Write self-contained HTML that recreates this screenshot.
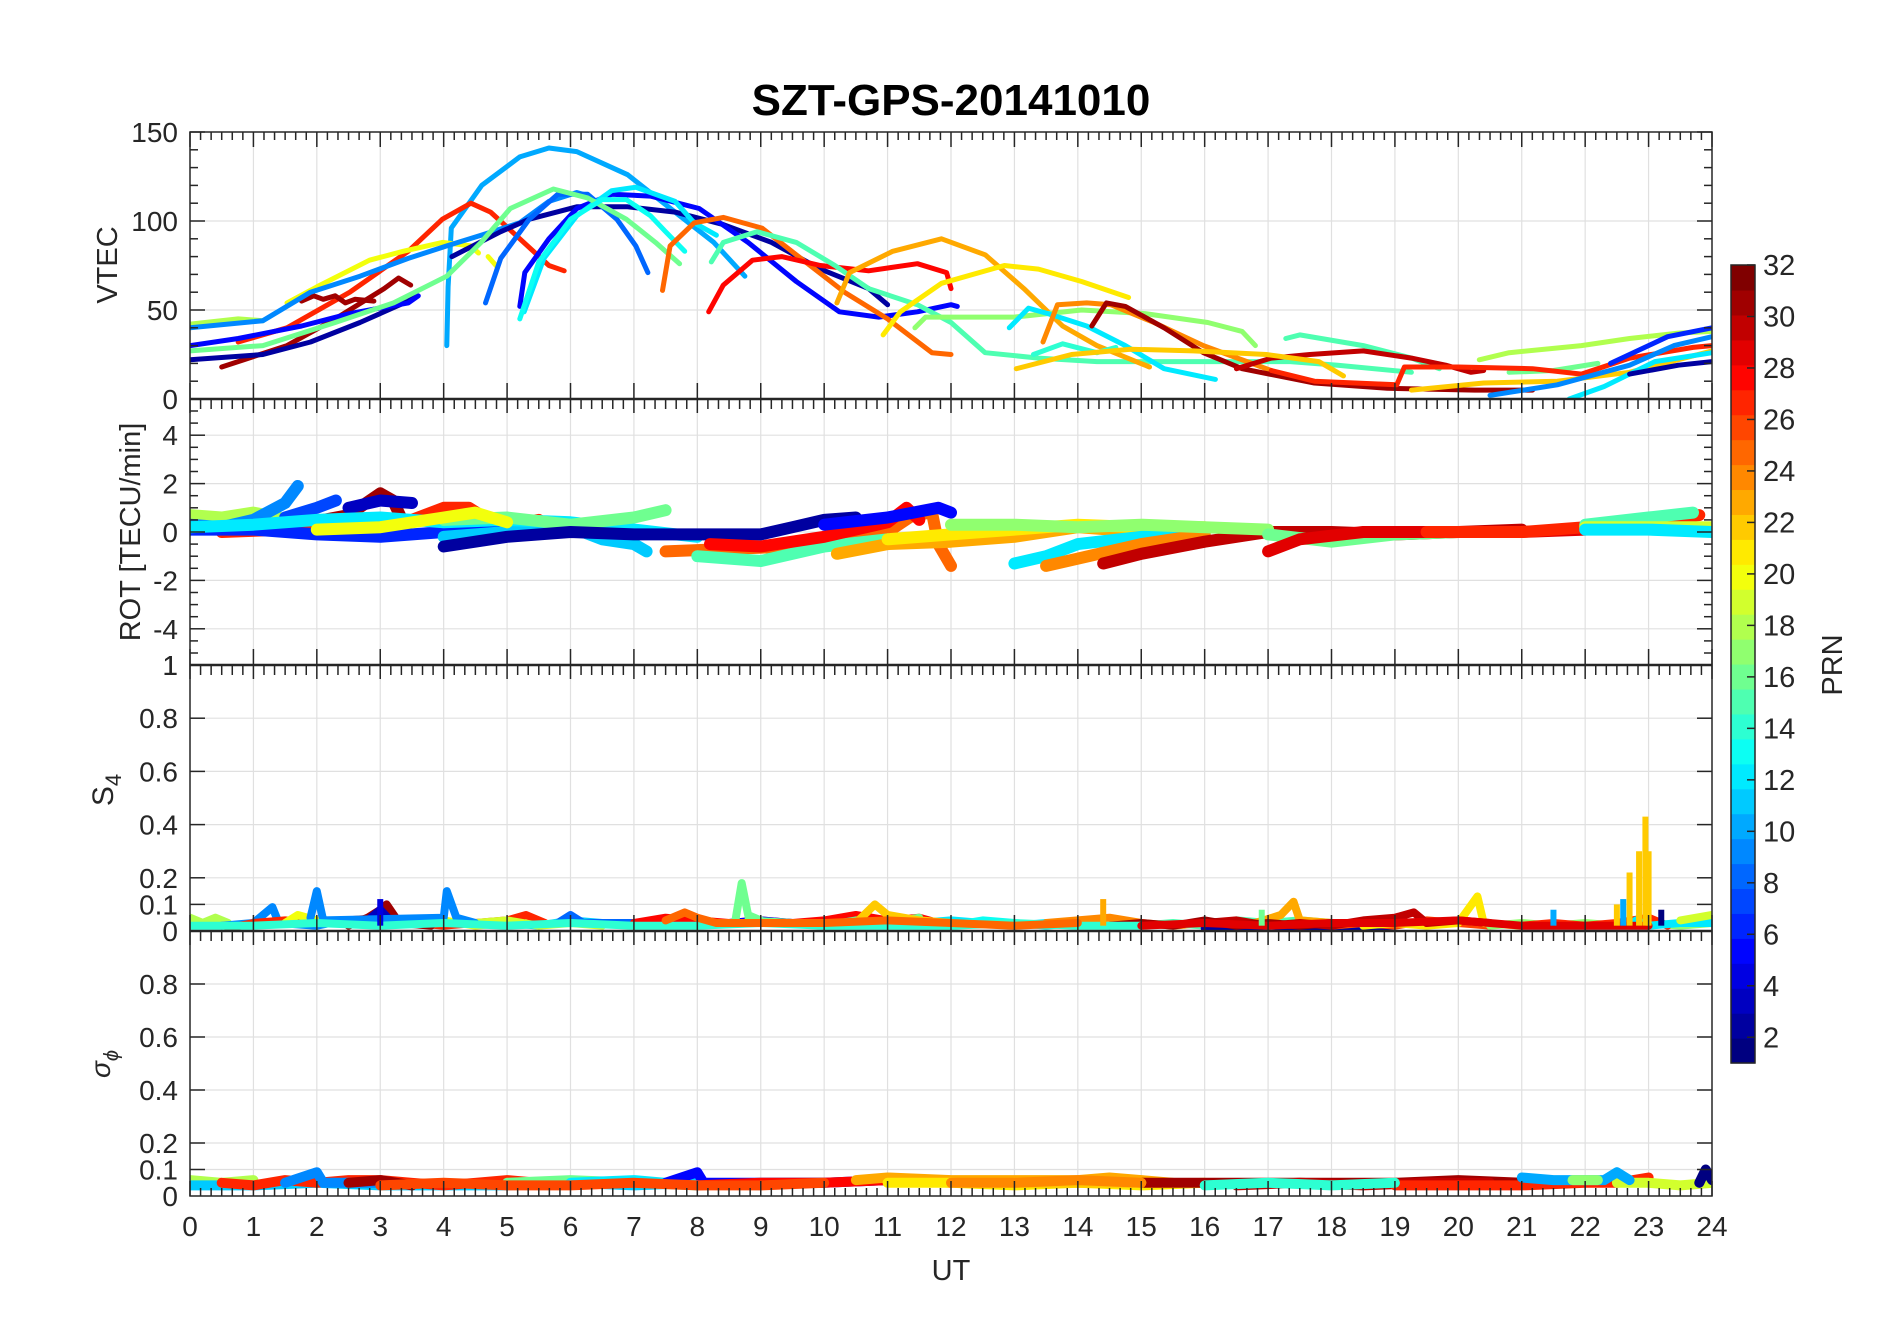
<!DOCTYPE html>
<html><head><meta charset="utf-8"><style>
html,body{margin:0;padding:0;background:#fff;}
svg{display:block;}
text{font-family:"Liberation Sans",sans-serif;fill:#262626;}
</style></head><body>
<svg id="chart" xmlns="http://www.w3.org/2000/svg" width="1902" height="1330" viewBox="0 0 1902 1330">
<rect width="1902" height="1330" fill="#fff"/>
<defs>
<clipPath id="c1"><rect x="190" y="132" width="1522" height="267"/></clipPath>
<clipPath id="c2"><rect x="190" y="399" width="1522" height="266"/></clipPath>
<clipPath id="c3"><rect x="190" y="665" width="1522" height="266"/></clipPath>
<clipPath id="c4"><rect x="190" y="931" width="1522" height="265"/></clipPath>
</defs>
<g id="grid"></g>
<g id="marks"></g>
<g id="axes"></g>
<text x="951" y="115" text-anchor="middle" font-size="44" font-weight="bold" fill="#000" style="fill:#000">SZT-GPS-20141010</text>
<text transform="translate(117,265) rotate(-90)" text-anchor="middle" font-size="29">VTEC</text>
<text transform="translate(140,532) rotate(-90)" text-anchor="middle" font-size="29">ROT [TECU/min]</text>
<text transform="translate(113,790) rotate(-90)" text-anchor="middle" font-size="30">S<tspan font-size="22" dy="8">4</tspan></text>
<text transform="translate(110,1064) rotate(-90)" text-anchor="middle" font-size="28" font-style="italic" font-family="Liberation Serif, serif">σ<tspan font-size="20" dy="8">ϕ</tspan></text>
<text x="951" y="1280" text-anchor="middle" font-size="29">UT</text>
<text transform="translate(1842,665) rotate(-90)" text-anchor="middle" font-size="29">PRN</text>
<g id="cbar"></g>
</svg>
<script>
// ---- data ----
const hourTicks=[0,1,2,3,4,5,6,7,8,9,10,11,12,13,14,15,16,17,18,19,20,21,22,23,24];
const vtecTicks=[0,50,100,150];
const rotTicks=[-4,-2,0,2,4];
const s4Ticks=[0,0.1,0.2,0.4,0.6,0.8,1];
const sigTicks=[0,0.1,0.2,0.4,0.6,0.8];
const prnTicks=[2,4,6,8,10,12,14,16,18,20,22,24,26,28,30,32];

const vtecPrn=[10,27,31,31,20,20,18,9,2,2,5,5,8,12,16,13,25,28,15,23,21,17,14,12,15,24,31,30,22,16,27,18,22,9,12,2,6];
const vtecTracks=[
[[4.05,30],[4.07,63],[4.12,96],[4.6,120],[5.2,136],[5.66,141],[6.1,139],[6.9,126],[7.65,105],[8.26,88],[8.75,69]],
[[0.76,32],[1.53,40],[2.52,60],[3.44,83],[3.98,101],[4.43,110],[4.74,105],[5.2,90],[5.66,75],[5.9,72]],
[[0.5,18],[1.53,30],[2.29,45],[3.06,62],[3.29,68],[3.48,64]],
[[1.76,55],[1.95,58],[2.1,56],[2.29,58],[2.45,54],[2.6,56],[2.9,55]],
[[1.53,54],[2,63],[2.83,78],[3.36,83],[3.98,88],[4.43,86],[4.55,82]],
[[4.7,80],[4.85,74]],
[[0,42],[0.76,45],[1.15,44]],
[[0,40],[1.15,44],[1.9,60],[2.68,69],[3.44,79],[4.05,86],[4.59,92],[5.2,99],[5.66,111],[6.1,116],[6.3,114]],
[[0,22],[1.15,25],[1.9,32],[2.68,43],[3.44,55],[3.55,58]],
[[4.13,80],[4.9,94],[5.35,101],[6.1,108],[6.9,108],[7.65,105],[8.41,98],[9.17,88],[9.94,73],[10.7,62],[11.0,53]],
[[0,30],[0.76,34],[1.76,41],[2.52,48],[3.44,54],[3.6,58]],
[[5.2,52],[5.28,71],[5.66,90],[6.1,107],[6.65,115],[7.26,114],[8.03,107],[8.8,88],[9.56,66],[10.24,49],[10.86,46],[11.47,49],[12,53],[12.1,52]],
[[4.66,54],[4.9,79],[5.35,101],[5.8,115],[6.27,115],[6.73,101],[7.03,86],[7.22,71]],
[[5.27,49],[5.58,79],[6.1,103],[6.65,117],[7.03,119],[7.65,111],[7.95,99],[8.3,92]],
[[0,27],[1.15,30],[2.29,43],[3.21,54],[4.05,69],[4.59,88],[5.05,107],[5.73,118],[6.27,113],[6.88,101],[7.34,88],[7.72,76]],
[[5.2,45],[5.5,77],[6.0,101],[6.5,112],[6.88,112],[7.26,103],[7.5,94],[7.8,83]],
[[7.45,61],[7.57,86],[7.95,99],[8.41,102],[9.02,96],[9.56,81],[10.32,60],[11.0,45],[11.7,26],[12,25]],
[[8.18,49],[8.41,64],[8.87,78],[9.33,80],[9.94,75],[10.7,72],[11.47,76],[11.93,71],[12,62]],
[[8.22,77],[8.41,88],[8.94,94],[9.56,88],[10.17,75],[10.7,62],[11.47,53],[12,43],[12.54,26],[13.38,23],[14.3,21],[15.8,21],[17.35,21],[18.1,19],[19.26,15]],
[[10.2,54],[10.4,71],[11.08,83],[11.85,90],[12.54,81],[13.15,62],[13.76,41],[14.3,30],[15.13,18]],
[[10.93,36],[11.2,49],[11.85,65],[12.84,75],[13.38,73],[14.06,66],[14.8,57]],
[[11.43,40],[11.6,46],[13,46],[14.06,50],[15.06,48],[16.05,43],[16.59,38],[16.8,30]],
[[13.3,25],[13.76,31],[14.3,26],[14.6,29]],
[[12.92,40],[13.22,51],[13.53,48],[14.14,41],[14.75,30],[15.36,17],[16.17,11]],
[[17.28,34],[17.5,36],[18.5,30],[19.26,23],[19.7,17]],
[[13.45,32],[13.68,53],[14.14,54],[14.52,53],[15.2,43],[15.98,30],[17.05,16]],
[[14.22,41],[14.45,54],[14.75,52],[15.36,40],[15.98,26],[16.59,17],[17.73,9],[18.88,6],[20.26,5],[21.17,5]],
[[16.5,17],[17.05,23],[17.66,25],[18.5,27],[19.26,23],[19.8,19],[20.2,15],[20.4,16]],
[[13.03,17],[13.9,25],[14.83,28],[15.82,27],[16.97,25],[17.8,21],[18.19,13]],
[[20.8,15],[21.5,16],[22.2,20]],
[[17.05,16],[17.73,10],[19.03,8],[19.15,18],[20.0,18],[21.17,17],[21.94,14],[22.7,23],[23.7,29],[24,30]],
[[20.33,22],[20.8,26],[21.94,30],[22.7,34],[23.47,37],[24,38]],
[[19.26,5],[20.4,9],[21.56,10],[22.7,15],[24,27]],
[[20.5,2],[21.56,8],[22.7,19],[23.4,30],[24,35]],
[[21.75,0],[22.3,7],[23.1,21],[24,26]],
[[22.7,14],[23.47,19],[24,21]],
[[22.4,20],[23.3,35],[24,40]]
];

const rotPrn=[18,9,7,31,27,3,6,11,12,16,20,2,25,15,28,23,5,21,12,24,30,17,16,29,27,15,19,12];
const rotTracks=[
[[0,0.7],[0.5,0.6],[1,0.8],[1.4,0.6]],
[[0,0.3],[0.5,0.2],[1,0.5],[1.5,1.2],[1.7,1.9]],
[[1.5,0.6],[2,1.0],[2.3,1.3]],
[[0.5,0.1],[1.5,0.2],[2.5,0.7],[3.0,1.6],[3.2,1.3],[3.4,0.2]],
[[0.5,0.0],[1.5,0.1],[2.5,0.3],[3.5,0.5],[4,1.0],[4.4,1.0],[4.7,0.5],[5,0.3],[5.5,0.5]],
[[2.5,1.0],[3,1.3],[3.5,1.2]],
[[0,0.1],[1,0.1],[2,-0.1],[3,-0.2],[4,0.0],[5,0.2],[5.5,0.2]],
[[4,-0.2],[5,0.0],[6,0.2],[6.5,-0.3],[7,-0.5],[7.2,-0.8]],
[[0,0.2],[1,0.3],[2,0.5],[3,0.6],[4,0.4],[5,0.5],[6,0.4],[7,0.1],[8,-0.2]],
[[4,0.5],[5,0.6],[6,0.3],[7,0.6],[7.5,0.9]],
[[2,0.1],[3,0.2],[4,0.6],[4.5,0.8],[5,0.4]],
[[4,-0.6],[5,-0.2],[6,0.0],[7,-0.1],[8,-0.1],[9,-0.1],[9.5,0.2],[10,0.5],[10.5,0.6]],
[[7.5,-0.8],[8.5,-0.7],[9.5,-0.6],[10.5,-0.2],[11,0.0],[11.4,0.7],[11.7,0.8],[11.8,-0.5],[12,-1.4]],
[[8,-1.0],[9,-1.2],[10,-0.6],[11,-0.3]],
[[8.2,-0.5],[9,-0.6],[10,-0.2],[11,0.4],[11.3,1.0],[11.5,0.5]],
[[10.2,-0.9],[11,-0.5],[12,-0.4],[13,-0.2],[14,0.2],[15,0.0]],
[[10,0.3],[11,0.6],[11.8,1.0],[12,0.8]],
[[11,-0.3],[12,-0.1],[13,0.1],[14,0.3],[15,0.2],[16,0.2]],
[[13,-1.3],[13.5,-1.0],[14,-0.5],[15,-0.2],[16,-0.1]],
[[13.5,-1.4],[14,-1.1],[15,-0.5],[16,-0.1]],
[[14.4,-1.3],[15,-0.9],[16,-0.4],[17,0.0],[18,0.0],[19,-0.1],[20,0.0],[21,0.1]],
[[12,0.3],[13,0.3],[14,0.2],[15,0.3],[16,0.2],[17,0.1]],
[[17,-0.1],[18,-0.4],[19,-0.1],[20,0.0]],
[[17,-0.8],[17.5,-0.3],[18.5,0.0],[20,0.0],[21,0.0],[22,0.1]],
[[19.5,0.0],[21,0.0],[22,0.2],[23,0.5],[23.8,0.7]],
[[22,0.3],[23,0.6],[23.7,0.8]],
[[22,0.2],[23,0.2],[24,0.2]],
[[22,0.1],[23,0.1],[24,0.0]]
];

const s4Prn=[18,9,27,20,31,3,11,19,8,28,5,16,12,13,24,15,2,26,23,21,30,17,31,27,16,22,12,9,19,14,25,29];
const s4Tracks=[
[[0,0.05],[0.2,0.03],[0.4,0.05],[0.6,0.03]],
[[0.5,0.02],[1,0.03],[1.3,0.09],[1.4,0.03],[2,0.02],[2.4,0.04]],
[[0.6,0.01],[1,0.03],[1.5,0.04],[2,0.03],[2.5,0.04],[3,0.05],[3.5,0.03],[4,0.02],[4.5,0.03],[5,0.04],[5.3,0.06],[5.6,0.03]],
[[1.5,0.03],[1.7,0.06],[2,0.04],[2.5,0.03],[3.5,0.03],[4,0.04],[4.5,0.02],[5,0.03]],
[[2.5,0.02],[2.8,0.05],[3,0.08],[3.1,0.1],[3.3,0.03],[3.8,0.02]],
[[2.8,0.04],[3,0.08],[3.2,0.03]],
[[5,0.03],[5.5,0.02],[6,0.04],[6.5,0.03],[7,0.03],[7.5,0.02]],
[[4.5,0.03],[5,0.04],[5.5,0.02],[6,0.03],[6.5,0.02]],
[[5.8,0.03],[6,0.06],[6.2,0.03],[7,0.03]],
[[7,0.03],[7.5,0.05],[8,0.04],[8.5,0.03],[9,0.04],[9.5,0.03],[10,0.04],[10.5,0.06],[11,0.04],[11.5,0.05],[11.8,0.03]],
[[8.5,0.03],[9,0.04],[9.5,0.03],[10,0.02],[10.5,0.04]],
[[8.8,0.04],[9.5,0.03],[10,0.02],[10.5,0.04],[11,0.03],[11.5,0.05]],
[[11.5,0.03],[12,0.04],[12.5,0.03],[13,0.02],[13.5,0.03]],
[[12,0.02],[12.5,0.04],[13,0.03],[13.5,0.02],[14,0.03]],
[[13.5,0.03],[14,0.04],[14.5,0.05],[15,0.03],[15.5,0.02],[16,0.03],[16.5,0.02]],
[[15,0.02],[15.5,0.03],[16,0.02],[16.5,0.04],[17,0.03],[17.5,0.04],[18,0.03]],
[[16,0.01],[17,0.02],[18,0.01],[19,0.02]],
[[18,0.02],[18.5,0.03],[19,0.02],[19.5,0.04],[20,0.03],[20.5,0.02]],
[[16.8,0.03],[17.2,0.06],[17.4,0.11],[17.5,0.04],[18,0.03]],
[[18.5,0.02],[19,0.03],[19.5,0.02],[20,0.03],[20.3,0.13],[20.4,0.03],[21,0.02]],
[[16,0.03],[16.5,0.04],[17,0.02],[17.5,0.03],[18,0.02],[18.5,0.04],[19,0.05],[19.3,0.07],[19.5,0.03],[20,0.04],[20.5,0.03]],
[[20.5,0.02],[21,0.03],[21.5,0.02],[22,0.03],[22.5,0.02],[23,0.03],[23.5,0.02],[24,0.03]],
[[14.5,0.02],[15,0.03],[15.5,0.02],[16,0.04],[16.5,0.02],[17,0.03],[17.5,0.02],[18,0.03]],
[[21,0.02],[21.5,0.03],[22,0.02],[22.5,0.03],[23,0.05],[23.3,0.02]],
[[8.6,0.04],[8.7,0.18],[8.8,0.06],[9,0.04]],
[[10.5,0.03],[10.8,0.1],[11,0.06],[11.5,0.04],[12,0.03]],
[[22.8,0.04],[23,0.02],[23.5,0.03],[24,0.03]],
[[1.9,0.05],[2.0,0.15],[2.1,0.04],[4,0.05],[4.05,0.15],[4.2,0.05],[4.5,0.03]],
[[23.5,0.04],[24,0.06]],
[[0,0.02],[1,0.02],[2,0.03],[3,0.02],[4,0.03],[5,0.02],[6,0.03],[7,0.02],[8,0.02],[9,0.03],[10,0.02],[11,0.02],[12,0.02],[13,0.03],[14,0.02],[15,0.02]],
[[7.5,0.04],[7.8,0.07],[8,0.05],[8.3,0.03],[9,0.03],[10,0.03],[11,0.04],[12,0.03],[13,0.02],[14,0.03]],
[[15,0.02],[16,0.03],[17,0.02],[18,0.03],[19,0.03],[20,0.04],[21,0.02],[22,0.02],[23,0.02]]
];
const s4Spike=[[22.5,0.1,22],[22.7,0.22,22],[22.85,0.3,22],[22.95,0.43,22],[23.0,0.3,22],[22.6,0.12,10],[23.2,0.08,1],[14.4,0.12,23],[21.5,0.08,10],[16.9,0.08,16],[3.0,0.12,4]];

const sigPrn=[18,11,27,9,31,16,12,5,28,23,21,31,30,27,14,19,10,22,1,17,26,24];
const sigTracks=[
[[0,0.06],[0.5,0.05],[1,0.06]],
[[0,0.04],[1,0.04],[2,0.05],[3,0.04],[4,0.04],[5,0.04],[6,0.05],[7,0.04],[8,0.05],[9,0.04]],
[[0.5,0.05],[1,0.04],[1.5,0.06],[2,0.05],[2.5,0.06],[3,0.06],[3.5,0.05],[4,0.04],[4.5,0.05],[5,0.06],[5.5,0.05],[6,0.05]],
[[1.5,0.05],[2,0.09],[2.1,0.05],[3,0.05]],
[[2.5,0.05],[3,0.06],[3.5,0.04]],
[[5,0.05],[6,0.06],[7,0.05],[8,0.04],[9,0.05],[10,0.05]],
[[6,0.05],[7,0.06],[7.5,0.05],[8,0.04]],
[[7.5,0.05],[8,0.09],[8.1,0.05],[9,0.05],[10,0.05],[11,0.06]],
[[8,0.04],[9,0.05],[10,0.05],[11,0.06],[12,0.05]],
[[10.5,0.06],[11,0.07],[12,0.06],[13,0.06],[14,0.06],[14.5,0.07],[15,0.06],[15.5,0.05]],
[[11,0.05],[12,0.05],[13,0.04],[14,0.05],[15,0.04],[16,0.05]],
[[15,0.05],[16,0.05],[17,0.05],[18,0.05],[19,0.05],[20,0.06],[21,0.05]],
[[16.5,0.04],[17.5,0.05],[18.5,0.04],[19.5,0.05],[20.5,0.05]],
[[19,0.04],[20,0.04],[21,0.04],[22,0.05],[22.5,0.05],[23,0.07]],
[[16,0.04],[17,0.05],[18,0.04],[19,0.05]],
[[22.5,0.05],[23,0.05],[23.5,0.04],[24,0.05]],
[[21,0.07],[21.5,0.06],[22.3,0.06],[22.5,0.09],[22.7,0.06]],
[[13,0.05],[14,0.05],[15,0.05]],
[[23.8,0.05],[23.9,0.1],[24,0.06]],
[[21.8,0.06],[22.2,0.06]],
[[3,0.04],[4,0.05],[5,0.04],[6,0.04],[7,0.05],[8,0.04],[9,0.04],[10,0.05]],
[[12,0.05],[13,0.05],[14,0.06],[15,0.05]]
];

// ---- scales ----
const X0=190,X1=1712;
const xs=h=>X0+(X1-X0)*h/24;
const yV=v=>399-v*(267/150);
const yR=v=>532-v*24.2;
const yS=v=>931-v*266;
const yG=v=>1196-v*265;
function jet(i){const v=(i-1)/31;const c=t=>Math.round(255*Math.max(0,Math.min(1,t)));
return `rgb(${c(1.5-Math.abs(4*v-3))},${c(1.5-Math.abs(4*v-2))},${c(1.5-Math.abs(4*v-1))})`;}
const NS="http://www.w3.org/2000/svg";
function mk(tag,attrs,parent){const e=document.createElementNS(NS,tag);for(const k in attrs)e.setAttribute(k,attrs[k]);parent.appendChild(e);return e;}
const grid=document.getElementById('grid'),marks=document.getElementById('marks'),axes=document.getElementById('axes');

const panels=[[132,399,vtecTicks.slice(1,3),yV],[399,665,rotTicks,yR],[665,931,s4Ticks.slice(1,6),yS],[931,1196,sigTicks.slice(1),yG]];
panels.forEach(p=>{
  hourTicks.slice(1,24).forEach(h=>{const l=mk('line',{x1:xs(h),x2:xs(h),y1:p[0],y2:p[1],stroke:'#e0e0e0','stroke-width':1.2},grid);
    });
  p[2].forEach(v=>{const l=mk('line',{x1:X0,x2:X1,y1:p[3](v),y2:p[3](v),stroke:'#e0e0e0','stroke-width':1.2},grid);
    });
});

function drawTracks(tracks,prns,ys,clip,w,name){
  const g=mk('g',{'clip-path':`url(#${clip})`},marks);
  
  tracks.forEach((t,i)=>{
    const d=t.map((p,j)=>(j?'L':'M')+xs(p[0]).toFixed(1)+','+ys(p[1]).toFixed(1)).join('');
    const e=mk('path',{d:d,fill:'none',stroke:jet(prns[i]),'stroke-width':w,'stroke-linejoin':'round','stroke-linecap':'round'},g);
    
    
  });
}
drawTracks(vtecTracks,vtecPrn,yV,'c1',5,'vtec');
drawTracks(rotTracks,rotPrn,yR,'c2',12,'rot');
drawTracks(s4Tracks,s4Prn,yS,'c3',8,'s4');
{
  const g=mk('g',{'clip-path':'url(#c3)'},marks);
  
  s4Spike.forEach(s=>{const e=mk('line',{x1:xs(s[0]),x2:xs(s[0]),y1:yS(0.02),y2:yS(s[1]),stroke:jet(s[2]),'stroke-width':6},g);
    });
}
drawTracks(sigTracks,sigPrn,yG,'c4',10,'sigma');

const ax=(x1,y1,x2,y2,w)=>{const e=mk('line',{x1,y1,x2,y2,stroke:'#262626','stroke-width':w||1.5},axes);return e;};
const fr=mk('rect',{x:X0,y:132,width:X1-X0,height:1064,fill:'none',stroke:'#262626','stroke-width':1.5},axes);

[399,665,931].forEach(y=>ax(X0,y,X1,y,2.5));
[132,399,665,931,1196].forEach((y,k)=>{
  for(let m=0;m<=144;m++){const x=xs(m/6);const major=m%6===0;
    if(k===0){ax(x,y,x,y+(major?15:8));}
    else if(k===4){ax(x,y,x,y-(major?15:8));}
    else{ if(major) ax(x,y-16,x,y+14); else ax(x,y,x,y+10);}
  }
});
function yt(vals,ys,minor,minVals){
  vals.forEach(v=>{ax(X0,ys(v),X0+15,ys(v));ax(X1,ys(v),X1-15,ys(v));});
  (minVals||[]).forEach(v=>{ax(X0,ys(v),X0+8,ys(v));ax(X1,ys(v),X1-8,ys(v));});
}
const vMinor=[10,20,30,40,60,70,80,90,110,120,130,140];
const rMinor=[-5,-4.5,-3.5,-3,-2.5,-1.5,-1,-0.5,0.5,1,1.5,2.5,3,3.5,4.5,5];
yt(vtecTicks,yV,0,vMinor);yt(rotTicks,yR,0,rMinor);yt(s4Ticks.slice(1,6),yS);yt(sigTicks.slice(1),yG);
function lab(x,y,s,anchor,name){const t=mk('text',{x,y,'font-size':28,'text-anchor':anchor},axes);t.textContent=s;}
vtecTicks.forEach(v=>lab(178,yV(v)+10,String(v),'end','vtec-tick-label'));
rotTicks.forEach(v=>lab(178,yR(v)+10,String(v),'end','rot-tick-label'));
lab(178,665+10,'1','end','rot-tick-label');
s4Ticks.forEach(v=>lab(178,yS(v)+10,String(v),'end','s4-tick-label'));
sigTicks.forEach(v=>lab(178,yG(v)+10,String(v),'end','sigma-tick-label'));
hourTicks.forEach(h=>lab(xs(h),1236,String(h),'middle','x-tick-label'));

const cb=document.getElementById('cbar');
const CT=265,CB=1063,cy=v=>CT+(CB-CT)*(32-v)/31;
for(let i=1;i<=32;i++){
  const top=CT+(CB-CT)*(32-i)/32,h=(CB-CT)/32;
  const r=mk('rect',{x:1731,y:top,width:24,height:h+0.6,fill:jet(i)},cb);
  
}
const cbf=mk('rect',{x:1731,y:CT,width:24,height:CB-CT,fill:'none',stroke:'#262626','stroke-width':1.5},cb);

prnTicks.forEach(v=>{
  const l=mk('line',{x1:1747,x2:1755,y1:cy(v),y2:cy(v),stroke:'#262626','stroke-width':1.5},cb);
  
  const t=mk('text',{x:1763,y:cy(v)+10,'font-size':29},cb);t.textContent=String(v);
  
});
</script>
</body></html>
